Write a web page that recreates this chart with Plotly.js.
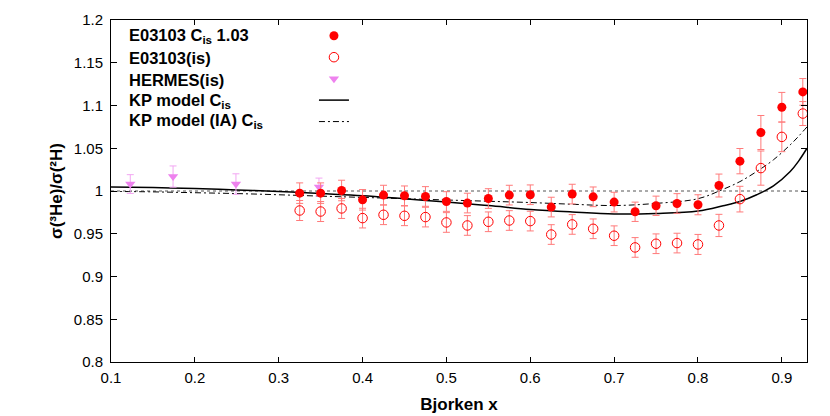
<!DOCTYPE html>
<html>
<head>
<meta charset="utf-8">
<script src="https://cdn.plot.ly/plotly-3.0.1.min.js"></script>
<style>
  html, body { margin: 0; padding: 0; background: #fff; }
  #plot { width: 830px; height: 416px; }
</style>
</head>
<body>
<div id="plot"></div>
<script>
// E03103 points (same x bins for both sets)
const e03X = [0.325, 0.35, 0.375, 0.40, 0.425, 0.45, 0.475, 0.50, 0.525, 0.55, 0.575, 0.60, 0.625,
              0.65, 0.675, 0.70, 0.725, 0.75, 0.775, 0.80, 0.825, 0.85, 0.875, 0.90, 0.925];
const e03Norm = [0.9975, 0.9975, 1.0006, 0.9897, 0.9952, 0.9944, 0.9936, 0.9877, 0.9859, 0.9912, 0.9952, 0.9956, 0.9812,
                 0.9964, 0.9932, 0.9870, 0.9757, 0.9827, 0.9854, 0.9839, 1.0064, 1.0349, 1.0684, 1.0980, 1.1159];
const e03NormErr = [0.012, 0.012, 0.012, 0.012, 0.0115, 0.0115, 0.0115, 0.0115, 0.0115, 0.0115, 0.0115, 0.0115, 0.0115,
                    0.0115, 0.0115, 0.0115, 0.0113, 0.0113, 0.0115, 0.0117, 0.0134, 0.0148, 0.0199, 0.0173, 0.0156];
const e03Is = [0.9772, 0.9760, 0.9796, 0.9683, 0.9722, 0.9710, 0.9695, 0.9632, 0.9597, 0.9640, 0.9655, 0.9648, 0.9491,
               0.9609, 0.9558, 0.9477, 0.9340, 0.9383, 0.9391, 0.9375, 0.9597, 0.9905, 1.0268, 1.0633, 1.0906];
const e03IsErr = [0.0117, 0.0117, 0.0117, 0.0115, 0.0115, 0.0115, 0.0115, 0.0115, 0.0115, 0.0115, 0.0115, 0.0115, 0.0115,
                  0.0115, 0.0115, 0.0115, 0.0115, 0.0115, 0.0115, 0.0117, 0.013, 0.015, 0.020, 0.0173, 0.014];

// HERMES isoscalar
const hermesX = [0.123, 0.174, 0.249, 0.348];
const hermesY = [1.0081, 1.0169, 1.0081, 1.0046];
const hermesErr = [0.011, 0.0124, 0.012, 0.0105];

// KP model curves
const kpX = [0.10, 0.15, 0.20, 0.25, 0.30, 0.35, 0.40, 0.45, 0.50, 0.55, 0.60, 0.65, 0.70, 0.75,
             0.80, 0.83, 0.85, 0.87, 0.89, 0.91, 0.92, 0.93];
const kpFull = [1.0047, 1.0040, 1.0028, 1.0013, 0.9994, 0.9970, 0.9945, 0.9908, 0.9870, 0.9830, 0.9785, 0.9755, 0.9732, 0.9738,
                0.9765, 0.9827, 0.9877, 0.9956, 1.0060, 1.0228, 1.0350, 1.0500];
const kpIA = [0.9995, 0.9990, 0.9980, 0.9970, 0.9956, 0.9940, 0.9925, 0.9910, 0.9895, 0.9880, 0.9865, 0.9845, 0.9830, 0.9855,
              0.9910, 1.0020, 1.0110, 1.0228, 1.0365, 1.0540, 1.0640, 1.0750];

const unityLine = 1.0;

const legendLabels = [
  "E03103 C<sub>is</sub> 1.03",
  "E03103(is)",
  "HERMES(is)",
  "KP model C<sub>is</sub>",
  "KP model (IA) C<sub>is</sub>"
];

const red = "#ff0000";
const redBar = "#ff7a7a";
const violet = "#ee82ee";
const violetBar = "#f2a6f2";
const fontFam = "Liberation Sans, Arial, sans-serif";

const traces = [
  {
    x: kpX, y: kpFull, type: "scatter", mode: "lines", name: " ",
    line: { color: "#000", width: 1.5, shape: "spline" }, legendrank: 4
  },
  {
    x: kpX, y: kpIA, type: "scatter", mode: "lines", name: " ",
    line: { color: "#000", width: 1, dash: "6px,3px,2px,3px", shape: "spline" }, legendrank: 5
  },
  {
    x: hermesX, y: hermesY, type: "scatter", mode: "markers", name: " ",
    marker: { symbol: "triangle-down", size: 9, color: violet },
    error_y: { type: "data", array: hermesErr, color: violetBar, thickness: 1, width: 3.5 },
    legendrank: 3
  },
  {
    x: e03X, y: e03Is, type: "scatter", mode: "markers", name: " ",
    marker: { symbol: "circle-open", size: 9.5, color: red, line: { width: 1 } },
    error_y: { type: "data", array: e03IsErr, color: redBar, thickness: 1, width: 3.5 },
    legendrank: 2
  },
  {
    x: e03X, y: e03Norm, type: "scatter", mode: "markers", name: " ",
    marker: { symbol: "circle", size: 9, color: red },
    error_y: { type: "data", array: e03NormErr, color: redBar, thickness: 1, width: 3.5 },
    legendrank: 1
  }
];

// legend labels sit left of the samples, as in the original
const labelY = [0.953, 0.889, 0.825, 0.764, 0.706];
const annotations = legendLabels.map((t, i) => ({
  xref: "paper", yref: "paper", x: 0.0227, y: labelY[i],
  xanchor: "left", yanchor: "middle", showarrow: false, text: t,
  font: { family: fontFam, size: 16.5, weight: "bold", color: "#000" }
}));

const axisCommon = {
  showline: true, linecolor: "#000", linewidth: 1, mirror: "ticks",
  ticks: "inside", tickcolor: "#000", showgrid: false, zeroline: false,
  tickfont: { family: fontFam, size: 15, color: "#000" }
};

const layout = {
  width: 830, height: 416,
  margin: { l: 111, r: 23, t: 20, b: 54 },
  paper_bgcolor: "#fff", plot_bgcolor: "#fff",
  font: { family: fontFam, color: "#000" },
  xaxis: Object.assign({}, axisCommon, {
    range: [0.1, 0.93], tick0: 0.1, dtick: 0.1, ticklen: 5, ticklabelstandoff: 2,
    title: { text: "Bjorken x", font: { size: 17, weight: "bold" }, standoff: 13 }
  }),
  yaxis: Object.assign({}, axisCommon, {
    range: [0.8, 1.2], tick0: 0.8, dtick: 0.05, ticklen: 6, ticklabelstandoff: 4,
    title: { text: "σ(³He)/σ(²H)", font: { size: 17, weight: "bold" }, standoff: 6 }
  }),
  shapes: [{
    type: "line", xref: "paper", x0: 0, x1: 1, yref: "y", y0: unityLine, y1: unityLine,
    line: { color: "#555", width: 1, dash: "dot" }, layer: "below"
  }],
  showlegend: true,
  legend: {
    x: 0.2916, y: 1.0, xanchor: "left", yanchor: "top",
    bgcolor: "rgba(0,0,0,0)", font: { size: 14.2 }, tracegroupgap: 0
  },
  annotations: annotations
};

Plotly.newPlot("plot", traces, layout, { displayModeBar: false, staticPlot: true });
</script>
</body>
</html>
